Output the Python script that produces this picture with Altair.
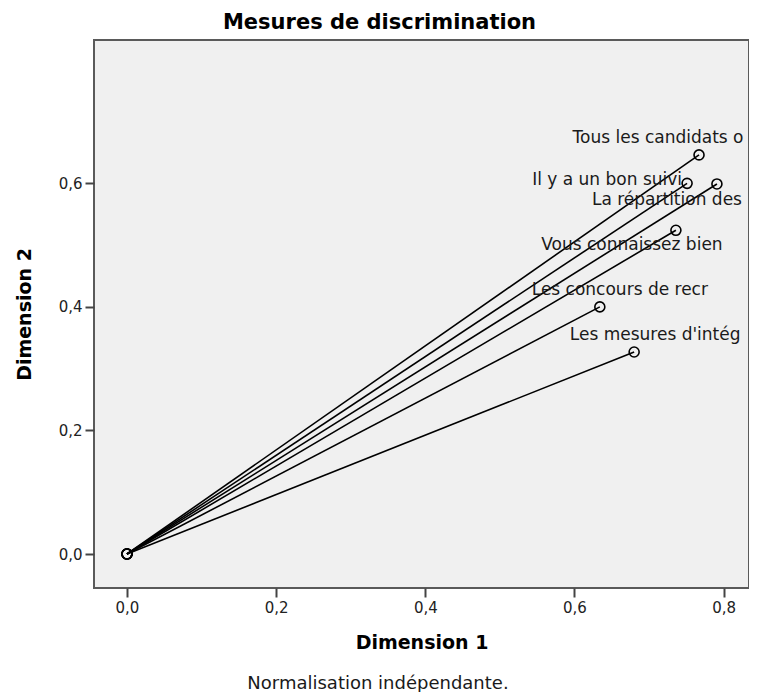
import altair as alt
import pandas as pd

# ---- data ----
labels = ["Tous les candidats o", "Il y a un bon suivi", "La répartition des",
          "Vous connaissez bien", "Les concours de recr", "Les mesures d'intég"]
dim1 = [0.767, 0.751, 0.791, 0.736, 0.634, 0.680]
dim2 = [0.646, 0.600, 0.599, 0.524, 0.400, 0.327]
origin1 = [0.0] * len(labels)
origin2 = [0.0] * len(labels)
x_ticks = [0.0, 0.2, 0.4, 0.6, 0.8]
y_ticks = [0.0, 0.2, 0.4, 0.6]
chart_title = "Mesures de discrimination"
x_title = "Dimension 1"
y_title = "Dimension 2"
note = ["Normalisation indépendante."]

# label placement (style, not data): dx, dy from each point
label_offsets = {
    "Tous les candidats o": (-41, -17),
    "Il y a un bon suivi": (-80, -3),
    "La répartition des": (-50, 16),
    "Vous connaissez bien": (-44, 15),
    "Les concours de recr": (20, -17),
    "Les mesures d'intég": (21, -17),
}

pts = pd.DataFrame({"label": labels, "d1": dim1, "d2": dim2, "o": 1})
orig = pd.DataFrame({"label": labels, "d1": origin1, "d2": origin2, "o": 0})
segs = pd.concat([orig, pts], ignore_index=True)

FONT = "DejaVu Sans"
fmt = "replace(format(datum.value, '.1f'), '.', ',')"

x_enc = alt.X("d1:Q", title=x_title,
              scale=alt.Scale(domain=[-0.0442, 0.834], nice=False, zero=False),
              axis=alt.Axis(values=x_ticks, labelExpr=fmt, titlePadding=18))
y_enc = alt.Y("d2:Q", title=y_title,
              scale=alt.Scale(domain=[-0.055, 0.832], nice=False, zero=False),
              axis=alt.Axis(values=y_ticks, labelExpr=fmt, titlePadding=24))

lines = alt.Chart(segs).mark_line(color="black", strokeWidth=1.6).encode(
    x=x_enc, y=y_enc, detail="label:N", order="o:Q")

points = alt.Chart(segs).mark_point(shape="circle", filled=False, color="black",
                                    size=100, strokeWidth=1.6, opacity=1).encode(
    x=x_enc, y=y_enc)

text_layers = []
for lab in labels:
    dx, dy = label_offsets[lab]
    text_layers.append(
        alt.Chart(pts).transform_filter(alt.datum.label == lab).mark_text(
            font=FONT, fontSize=17, color="#1a1a1a", dx=dx, dy=dy,
            align="center", baseline="middle").encode(
            x=x_enc, y=y_enc, text="label:N"))

note_layer = alt.Chart(pd.DataFrame({"t": note})).mark_text(
    font=FONT, fontSize=18, color="#1a1a1a", align="center", baseline="middle"
).encode(x=alt.value(284), y=alt.value(644), text="t:N")

chart = alt.layer(lines, points, *text_layers, note_layer).properties(
    width=655, height=548,
    background="white",
    title=alt.TitleParams(chart_title, font=FONT, fontSize=21, fontWeight="bold",
                          color="black", dx=-42, offset=7, anchor="middle"),
    autosize=alt.AutoSizeParams(type="none"),
    padding={"left": 86, "top": 32, "right": 0, "bottom": 104},
).configure_view(
    fill="#F0F0F0", stroke="#5a5a5a", strokeWidth=2
).configure_axis(
    domain=False, grid=False, tickColor="#444444", tickWidth=2, tickSize=9,
    labelFont=FONT, labelFontSize=15, labelColor="#222222", labelPadding=3,
    titleFont=FONT, titleFontSize=19, titleFontWeight="bold", titleColor="black"
)

chart.save("out.html", embed_options={"renderer": "svg", "actions": False})
